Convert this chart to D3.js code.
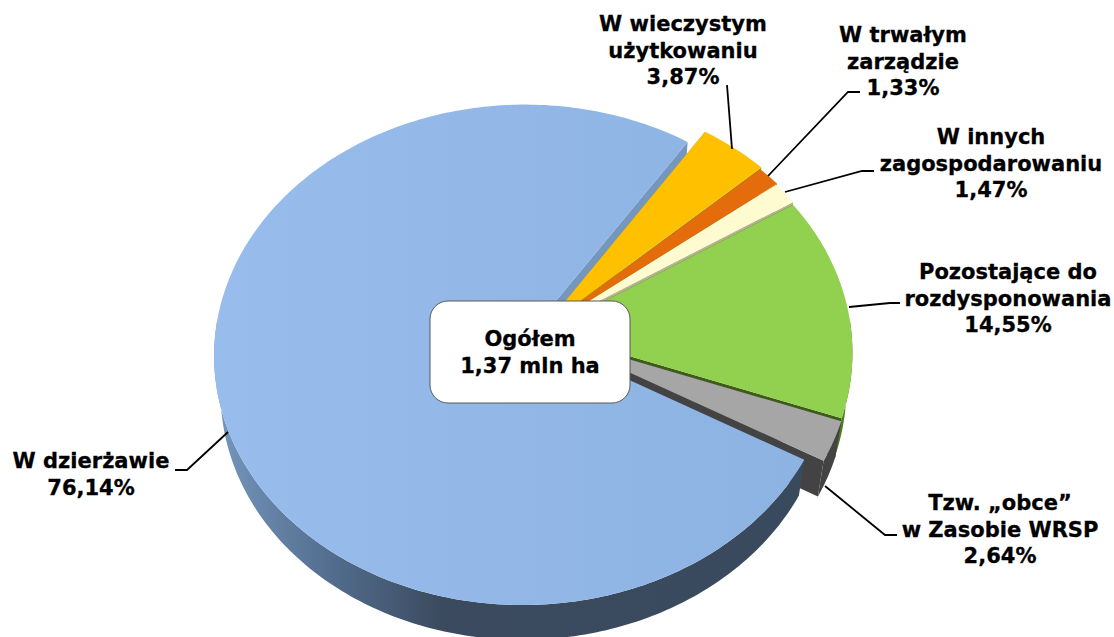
<!DOCTYPE html>
<html>
<head>
<meta charset="utf-8">
<script src="https://cdn.jsdelivr.net/npm/d3@7"></script>
<style>
  html, body { margin: 0; padding: 0; background: #fff; overflow: hidden; }
  text { font-family: "DejaVu Sans", Verdana, sans-serif; font-weight: bold; fill: #000; stroke: #000; stroke-width: 0.3px; }
</style>
</head>
<body>
<div class="pie"></div>
<script>
const categories = ["W wieczystym użytkowaniu", "W trwałym zarządzie", "W innych zagospodarowaniu",
  "Pozostające do rozdysponowania", "Tzw. „obce” w Zasobie WRSP", "W dzierżawie"];
const shares = [3.87, 1.33, 1.47, 14.55, 2.64, 76.14];
const shareLabels = ["3,87%", "1,33%", "1,47%", "14,55%", "2,64%", "76,14%"];
const labelLines = [
  ["W wieczystym", "użytkowaniu"],
  ["W trwałym", "zarządzie"],
  ["W innych", "zagospodarowaniu"],
  ["Pozostające do", "rozdysponowania"],
  ["Tzw. „obce”", "w Zasobie WRSP"],
  ["W dzierżawie"]
];
const totalLines = ["Ogółem", "1,37 mln ha"];

const width = 1114;
const height = 637;
const center = { x: 539, y: 332 };
const radiusX = 308;
const radiusY = 248;
const persp = 0.083;   // top edge is further away than the front edge
const yaw = 0.015;     // right side slightly further away too
const depth = 38;
const depthShrink = 0.02;

const topColors = ["#FFC000", "#E46C0A", "#FDFBCF", "#92D050", "#A6A6A6", "url(#blueTop)"];
const wallColors = ["#A79A1E", "#9A7A10", "#B5B290", "#3D5C16", "#434343", "#7596BD"];
const rimColors = ["#A67D00", "#954607", "#A5A386", "#4F7A1E", "#434343", "url(#blueSide)"];
const explode = [0.02, 0.016, 0.016, 0.02, 0.035, 0.035];
const sliceScale = [1.03, 1.025, 1.02, 1.01, 0.995, 1];

const labelAnchors = [
  { x: 683, y: 31 }, { x: 903, y: 42 }, { x: 991, y: 144 },
  { x: 1008, y: 279 }, { x: 1000, y: 510 }, { x: 91, y: 468 }
];
const leaders = [
  [[727, 85], [732, 149]],
  [[860, 92], [848, 92], [768, 176]],
  [[785, 192], [862, 171], [874, 171]],
  [[849, 307], [890, 303], [900, 303]],
  [[825, 486], [885, 535], [897, 535]],
  [[228, 432], [187, 470], [175, 470]]
];

// disc plane -> screen, z = 0 top face, z = 1 bottom face
function project(u, v, z) {
  const d = 1 - persp * v + yaw * u + depthShrink * z;
  return [center.x + radiusX * u / d, center.y + radiusY * v / d + depth * z / d];
}

const pie = d3.pie().sort(null)
  .startAngle(33.6 * Math.PI / 180)
  .endAngle(33.6 * Math.PI / 180 + 2 * Math.PI);
const arcs = pie(shares);

function offset(d, i) {
  const mid = (d.startAngle + d.endAngle) / 2;
  return [explode[i] * Math.sin(mid), -explode[i] * Math.cos(mid)];
}
function rimPoint(d, i, a, z) {
  const o = offset(d, i);
  const s = sliceScale[i];
  return project(o[0] + s * Math.sin(a), o[1] - s * Math.cos(a), z);
}
function apex(d, i, z) {
  const o = offset(d, i);
  return project(o[0], o[1], z);
}
function anglesOf(d) {
  const n = Math.max(4, Math.ceil((d.endAngle - d.startAngle) * 60));
  return d3.range(n + 1).map(k => d.startAngle + (d.endAngle - d.startAngle) * k / n);
}

const closed = d3.line().curve(d3.curveLinearClosed);
const topPath = (d, i) => closed([apex(d, i, 0), ...anglesOf(d).map(a => rimPoint(d, i, a, 0))]);
const rimPath = (d, i) => {
  // only the part of the rim turned towards the viewer
  const as = anglesOf(d).filter(a => -Math.cos(a) > -0.05);
  if (as.length < 2) return null;
  return closed([...as.map(a => rimPoint(d, i, a, 0)), ...as.slice().reverse().map(a => rimPoint(d, i, a, 1))]);
};
const wallPath = (d, i, a) => closed([apex(d, i, 0), rimPoint(d, i, a, 0), rimPoint(d, i, a, 1), apex(d, i, 1)]);

const svg = d3.select(".pie").append("svg")
  .attr("width", width)
  .attr("height", height)
  .style("display", "block");

const defs = svg.append("defs");
const blueTop = defs.append("linearGradient").attr("id", "blueTop")
  .attr("gradientUnits", "userSpaceOnUse")
  .attr("x1", 215).attr("y1", 0).attr("x2", 800).attr("y2", 0);
blueTop.append("stop").attr("offset", 0).attr("stop-color", "#98BDED");
blueTop.append("stop").attr("offset", 0.45).attr("stop-color", "#93B8E8");
blueTop.append("stop").attr("offset", 1).attr("stop-color", "#8DB3E2");
const blueSide = defs.append("linearGradient").attr("id", "blueSide")
  .attr("gradientUnits", "userSpaceOnUse")
  .attr("x1", 225).attr("y1", 0).attr("x2", 800).attr("y2", 0);
blueSide.append("stop").attr("offset", 0).attr("stop-color", "#7393BA");
blueSide.append("stop").attr("offset", 0.2).attr("stop-color", "#506A8A");
blueSide.append("stop").attr("offset", 0.38).attr("stop-color", "#3B4A5E");
blueSide.append("stop").attr("offset", 1).attr("stop-color", "#3A4A5E");

const blueIdx = arcs.length - 1;
const pieG = svg.append("g");

// back wall of the big slice goes first, the small slices lean over it
pieG.append("path").attr("d", wallPath(arcs[blueIdx], blueIdx, arcs[blueIdx].endAngle)).attr("fill", wallColors[blueIdx]);

function drawSlice(d, i) {
  pieG.append("path").attr("d", wallPath(d, i, d.startAngle)).attr("fill", wallColors[i]);
  pieG.append("path").attr("d", wallPath(d, i, d.endAngle)).attr("fill", wallColors[i]);
  const rim = rimPath(d, i);
  if (rim) pieG.append("path").attr("d", rim).attr("fill", rimColors[i]);
  pieG.append("path").attr("d", topPath(d, i)).attr("fill", topColors[i]);
}
arcs.forEach((d, i) => { if (i !== blueIdx) drawSlice(d, i); });
pieG.append("path").attr("d", rimPath(arcs[blueIdx], blueIdx)).attr("fill", rimColors[blueIdx]);
pieG.append("path").attr("d", topPath(arcs[blueIdx], blueIdx)).attr("fill", topColors[blueIdx]);

// leader lines
svg.append("g").selectAll("path")
  .data(leaders)
  .enter()
  .append("path")
  .attr("d", d3.line())
  .attr("fill", "none")
  .attr("stroke", "#000")
  .attr("stroke-width", 1.8);

// slice labels
const labelG = svg.selectAll("text.label")
  .data(categories)
  .enter()
  .append("text")
  .attr("class", "label")
  .attr("text-anchor", "middle")
  .style("font-size", "21px");
labelG.each(function (d, i) {
  const lines = [...labelLines[i], shareLabels[i]];
  d3.select(this).selectAll("tspan")
    .data(lines)
    .enter()
    .append("tspan")
    .attr("x", labelAnchors[i].x)
    .attr("y", (l, k) => labelAnchors[i].y + k * 26.5)
    .text(l => l);
});

// centre box
svg.append("rect")
  .attr("x", 430).attr("y", 301)
  .attr("width", 200).attr("height", 102)
  .attr("rx", 18).attr("ry", 18)
  .attr("fill", "#fff")
  .attr("stroke", "#595959")
  .attr("stroke-width", 1);
svg.selectAll("text.total")
  .data(totalLines)
  .enter()
  .append("text")
  .attr("class", "total")
  .attr("text-anchor", "middle")
  .attr("x", 530)
  .attr("y", (d, i) => 346 + i * 26.5)
  .style("font-size", "21px")
  .text(d => d);
</script>
</body>
</html>
